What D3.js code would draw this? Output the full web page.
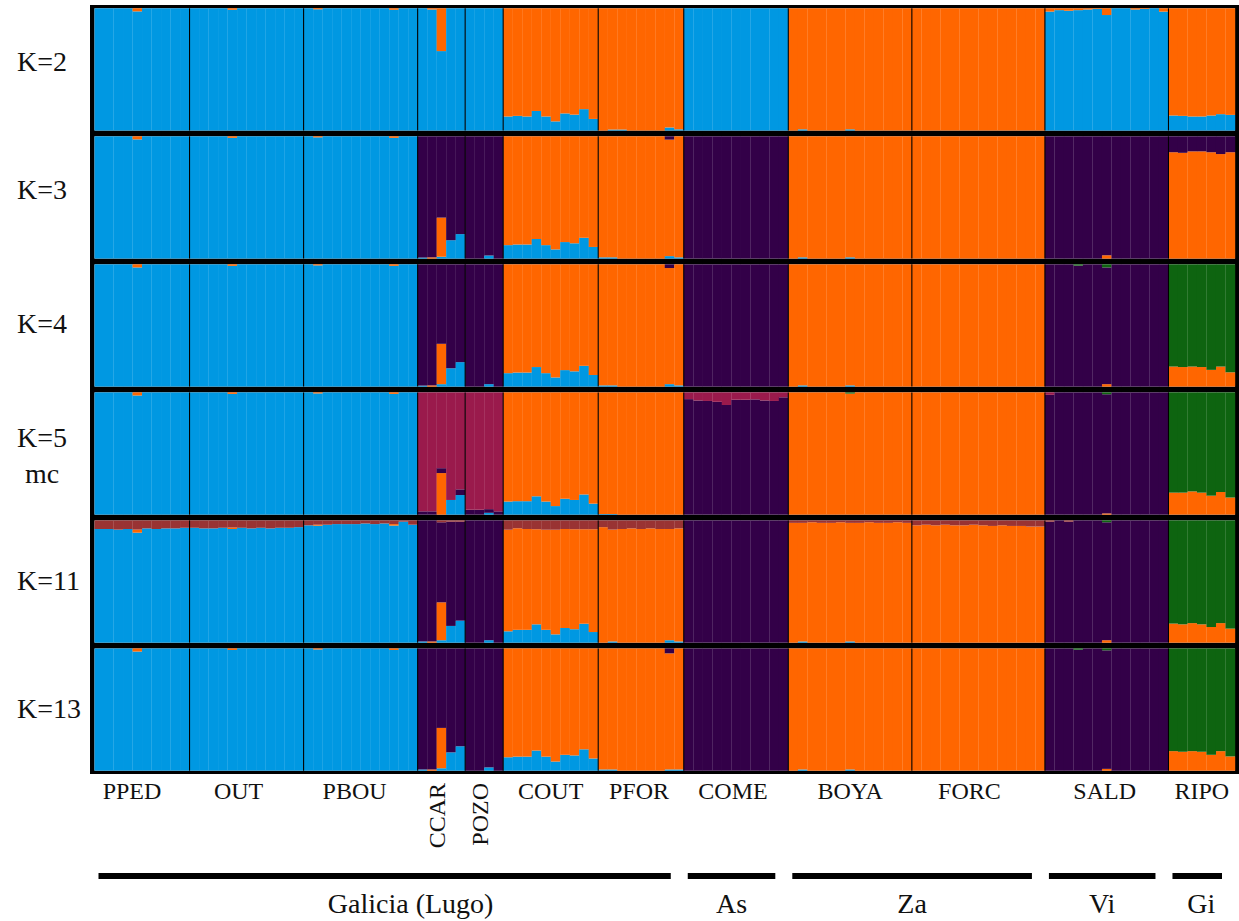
<!DOCTYPE html>
<html><head><meta charset="utf-8">
<script src="https://cdn.jsdelivr.net/npm/d3@7"></script>
<style>body{margin:0;background:#fff}svg{display:block}text{font-family:"Liberation Serif","Times New Roman",serif;fill:#111}</style>
</head><body><svg id="c" width="1239" height="921"></svg>
<script>
// ---------- DATA ----------
const populations = ["PPED","OUT","PBOU","CCAR","POZO","COUT","PFOR","COME","BOYA","FORC","SALD","RIPO"];
const popSizes    = [10,12,12,5,4,10,9,11,13,14,13,7];
const rotatedPops = ["CCAR","POZO"];
const regions      = ["Galicia (Lugo)","As","Za","Vi","Gi"];
const regionFirst  = ["PPED","COME","BOYA","SALD","RIPO"];
const regionLast   = ["PFOR","COME","FORC","SALD","RIPO"];
const panelLabels  = [["K=2"],["K=3"],["K=4"],["K=5","mc"],["K=11"],["K=13"]];
// cluster order (bottom -> top): blue, orange, purple, green, crimson, brown
const clusterColors = ["#0098E2","#FF6600","#330048","#0E6410","#9A1A4C","#993333"];

// K=2 : [blue, orange]
const qK2 = [
 [1,0],[1,0],[1,0],[1,0],[.975,.025],[1,0],[1,0],[1,0],[1,0],[1,0],
 [1,0],[1,0],[1,0],[1,0],[.988,.012],[1,0],[1,0],[1,0],[1,0],[1,0],[1,0],[1,0],
 [1,0],[.992,.008],[1,0],[1,0],[1,0],[1,0],[1,0],[1,0],[1,0],[.988,.012],[1,0],[1,0],
 [1,0],[.99,.01],[.65,.35],[1,0],[1,0],
 [1,0],[1,0],[1,0],[1,0],
 [.115,.885],[.12,.88],[.115,.885],[.16,.84],[.115,.885],[.075,.925],[.14,.86],[.13,.87],[.175,.825],[.095,.905],
 [0,1],[.008,.992],[.008,.992],[0,1],[0,1],[0,1],[0,1],[.025,.975],[.01,.99],
 [1,0],[1,0],[1,0],[1,0],[1,0],[1,0],[1,0],[1,0],[1,0],[1,0],[1,0],
 [0,1],[.01,.99],[0,1],[0,1],[0,1],[0,1],[.01,.99],[0,1],[0,1],[0,1],[0,1],[0,1],[0,1],
 [0,1],[0,1],[0,1],[0,1],[0,1],[0,1],[0,1],[0,1],[0,1],[0,1],[0,1],[0,1],[0,1],[0,1],
 [.973,.027],[.985,.015],[.98,.02],[.985,.015],[.99,.01],[.995,.005],[.945,.055],[1,0],[1,0],[.99,.01],[.995,.005],[1,0],[.973,.027],
 [.123,.877],[.12,.88],[.115,.885],[.115,.885],[.123,.877],[.134,.866],[.128,.872]
];
// K=3 : [blue, orange, purple]
const qK3 = [
 [1,0,0],[1,0,0],[1,0,0],[1,0,0],[.975,.025,0],[1,0,0],[1,0,0],[1,0,0],[1,0,0],[1,0,0],
 [1,0,0],[1,0,0],[1,0,0],[1,0,0],[.988,.012,0],[1,0,0],[1,0,0],[1,0,0],[1,0,0],[1,0,0],[1,0,0],[1,0,0],
 [1,0,0],[.992,.008,0],[1,0,0],[1,0,0],[1,0,0],[1,0,0],[1,0,0],[1,0,0],[1,0,0],[.988,.012,0],[1,0,0],[1,0,0],
 [.008,0,.992],[0,.01,.99],[.015,.32,.665],[.15,0,.85],[.2,0,.8],
 [0,0,1],[0,0,1],[.025,0,.975],[0,0,1],
 [.11,.89,0],[.115,.885,0],[.115,.885,0],[.16,.84,0],[.11,.89,0],[.075,.925,0],[.135,.865,0],[.125,.875,0],[.17,.83,0],[.095,.905,0],
 [.01,.99,0],[.01,.99,0],[0,1,0],[0,1,0],[0,1,0],[0,1,0],[0,1,0],[.02,.953,.027],[.01,.99,0],
 [0,0,1],[0,0,1],[0,0,1],[0,0,1],[0,0,1],[0,0,1],[0,0,1],[0,0,1],[0,0,1],[0,0,1],[0,0,1],
 [0,1,0],[.01,.99,0],[0,1,0],[0,1,0],[0,1,0],[0,1,0],[.01,.99,0],[0,1,0],[0,1,0],[0,1,0],[0,1,0],[0,1,0],[0,1,0],
 [0,1,0],[0,1,0],[0,1,0],[0,1,0],[0,1,0],[0,1,0],[0,1,0],[0,1,0],[0,1,0],[0,1,0],[0,1,0],[0,1,0],[0,1,0],[0,1,0],
 [0,0,1],[0,0,1],[0,0,1],[0,0,1],[0,0,1],[0,0,1],[0,.027,.973],[0,0,1],[0,0,1],[0,0,1],[0,0,1],[0,0,1],[0,0,1],
 [0,.87,.13],[0,.865,.135],[0,.877,.123],[0,.877,.123],[0,.87,.13],[0,.855,.145],[0,.87,.13]
];
// K=4 : [blue, orange, purple, green]
const qK4 = [
 [1,0,0,0],[1,0,0,0],[1,0,0,0],[1,0,0,0],[.975,.025,0,0],[1,0,0,0],[1,0,0,0],[1,0,0,0],[1,0,0,0],[1,0,0,0],
 [1,0,0,0],[1,0,0,0],[1,0,0,0],[1,0,0,0],[.988,.012,0,0],[1,0,0,0],[1,0,0,0],[1,0,0,0],[1,0,0,0],[1,0,0,0],[1,0,0,0],[1,0,0,0],
 [1,0,0,0],[.992,.008,0,0],[1,0,0,0],[1,0,0,0],[1,0,0,0],[1,0,0,0],[1,0,0,0],[1,0,0,0],[1,0,0,0],[.988,.012,0,0],[1,0,0,0],[1,0,0,0],
 [.008,0,.992,0],[0,.01,.99,0],[.02,.33,.65,0],[.15,0,.85,0],[.2,0,.8,0],
 [0,0,1,0],[0,0,1,0],[.02,0,.98,0],[0,0,1,0],
 [.11,.89,0,0],[.115,.885,0,0],[.115,.885,0,0],[.16,.84,0,0],[.11,.89,0,0],[.075,.925,0,0],[.135,.865,0,0],[.125,.875,0,0],[.17,.83,0,0],[.095,.905,0,0],
 [.01,.99,0,0],[.01,.99,0,0],[0,1,0,0],[0,1,0,0],[0,1,0,0],[0,1,0,0],[0,1,0,0],[.02,.95,.03,0],[.01,.99,0,0],
 [0,0,1,0],[0,0,1,0],[0,0,1,0],[0,0,1,0],[0,0,1,0],[0,0,1,0],[0,0,1,0],[0,0,1,0],[0,0,1,0],[0,0,1,0],[0,0,1,0],
 [0,1,0,0],[.01,.99,0,0],[0,1,0,0],[0,1,0,0],[0,1,0,0],[0,1,0,0],[.01,.99,0,0],[0,1,0,0],[0,1,0,0],[0,1,0,0],[0,1,0,0],[0,1,0,0],[0,1,0,0],
 [0,1,0,0],[0,1,0,0],[0,1,0,0],[0,1,0,0],[0,1,0,0],[0,1,0,0],[0,1,0,0],[0,1,0,0],[0,1,0,0],[0,1,0,0],[0,1,0,0],[0,1,0,0],[0,1,0,0],[0,1,0,0],
 [0,0,1,0],[0,0,1,0],[0,0,1,0],[0,0,.99,.01],[0,0,1,0],[0,0,1,0],[0,.02,.955,.025],[0,0,1,0],[0,0,1,0],[0,0,1,0],[0,0,1,0],[0,0,1,0],[0,0,1,0],
 [0,.164,0,.836],[0,.16,0,.84],[0,.164,0,.836],[0,.16,0,.84],[0,.137,0,.863],[0,.164,0,.836],[0,.117,0,.883]
];
// K=5 (mc) : [blue, orange, purple, green, crimson]
const qK5 = [
 [1,0,0,0,0],[1,0,0,0,0],[1,0,0,0,0],[1,0,0,0,0],[.975,.025,0,0,0],[1,0,0,0,0],[1,0,0,0,0],[1,0,0,0,0],[1,0,0,0,0],[1,0,0,0,0],
 [1,0,0,0,0],[1,0,0,0,0],[1,0,0,0,0],[1,0,0,0,0],[.988,.012,0,0,0],[1,0,0,0,0],[1,0,0,0,0],[1,0,0,0,0],[1,0,0,0,0],[1,0,0,0,0],[1,0,0,0,0],[1,0,0,0,0],
 [1,0,0,0,0],[.992,.008,0,0,0],[1,0,0,0,0],[1,0,0,0,0],[1,0,0,0,0],[1,0,0,0,0],[1,0,0,0,0],[1,0,0,0,0],[1,0,0,0,0],[.988,.012,0,0,0],[1,0,0,0,0],[1,0,0,0,0],
 [0,0,.027,0,.973],[0,0,.027,0,.973],[0,.34,.04,0,.62],[.12,0,0,0,.88],[.16,0,.047,0,.793],
 [0,0,.04,0,.96],[0,0,.04,0,.96],[.015,0,.03,0,.955],[0,0,.027,0,.973],
 [.107,.893,0,0,0],[.11,.89,0,0,0],[.11,.89,0,0,0],[.15,.85,0,0,0],[.107,.893,0,0,0],[.07,.93,0,0,0],[.13,.87,0,0,0],[.12,.88,0,0,0],[.165,.835,0,0,0],[.09,.91,0,0,0],
 [.005,.995,0,0,0],[.005,.995,0,0,0],[0,1,0,0,0],[0,1,0,0,0],[0,1,0,0,0],[0,1,0,0,0],[0,1,0,0,0],[0,1,0,0,0],[0,1,0,0,0],
 [0,0,.945,0,.055],[0,0,.934,0,.066],[0,0,.93,0,.07],[0,0,.923,0,.077],[0,0,.897,0,.103],[0,0,.94,0,.06],[0,0,.94,0,.06],[0,0,.943,0,.057],[0,0,.934,0,.066],[0,0,.93,0,.07],[0,0,.96,0,.04],
 [0,1,0,0,0],[0,1,0,0,0],[0,1,0,0,0],[0,1,0,0,0],[0,1,0,0,0],[0,1,0,0,0],[0,.99,0,.01,0],[0,1,0,0,0],[0,1,0,0,0],[0,1,0,0,0],[0,1,0,0,0],[0,1,0,0,0],[0,1,0,0,0],
 [0,1,0,0,0],[0,1,0,0,0],[0,1,0,0,0],[0,1,0,0,0],[0,1,0,0,0],[0,1,0,0,0],[0,1,0,0,0],[0,1,0,0,0],[0,1,0,0,0],[0,1,0,0,0],[0,1,0,0,0],[0,1,0,0,0],[0,1,0,0,0],[0,1,0,0,0],
 [0,0,.98,0,.02],[0,0,1,0,0],[0,0,1,0,0],[0,0,1,0,0],[0,0,1,0,0],[0,0,1,0,0],[0,.01,.975,.015,0],[0,0,1,0,0],[0,0,1,0,0],[0,0,1,0,0],[0,0,1,0,0],[0,0,1,0,0],[0,0,1,0,0],
 [0,.18,0,.82,0],[0,.18,0,.82,0],[0,.19,0,.81,0],[0,.18,0,.82,0],[0,.155,0,.845,0],[0,.185,0,.815,0],[0,.14,0,.86,0]
];
// K=11 : [blue, orange, purple, green, crimson, brown]
const qK11 = [
 [.93,0,0,0,0,.07],[.93,0,0,0,0,.07],[.925,0,0,0,0,.075],[.93,0,0,0,0,.07],[.9,.025,0,0,0,.075],[.935,0,0,0,0,.065],[.93,0,0,0,0,.07],[.935,0,0,0,0,.065],[.935,0,0,0,0,.065],[.94,0,0,0,0,.06],
 [.94,0,0,0,0,.06],[.935,0,0,0,0,.065],[.935,0,0,0,0,.065],[.94,0,0,0,0,.06],[.93,.012,0,0,0,.058],[.94,0,0,0,0,.06],[.935,0,0,0,0,.065],[.94,0,0,0,0,.06],[.935,0,0,0,0,.065],[.94,0,0,0,0,.06],[.94,0,0,0,0,.06],[.945,0,0,0,0,.055],
 [.96,0,0,0,0,.04],[.957,.008,0,0,0,.035],[.965,0,0,0,0,.035],[.97,0,0,0,0,.03],[.97,0,0,0,0,.03],[.97,0,0,0,0,.03],[.975,0,0,0,0,.025],[.97,0,0,0,0,.03],[.975,0,0,0,0,.025],[.958,.012,0,0,0,.03],[.99,0,0,0,0,.01],[.965,0,0,0,0,.035],
 [.01,0,.99,0,0,0],[0,.01,.99,0,0,0],[.02,.31,.655,0,0,.015],[.137,0,.853,0,0,.01],[.18,0,.81,0,0,.01],
 [0,0,1,0,0,0],[0,0,1,0,0,0],[.02,0,.98,0,0,0],[0,0,1,0,0,0],
 [.093,.831,0,0,0,.076],[.105,.831,0,0,0,.064],[.105,.825,0,0,0,.07],[.15,.778,0,0,0,.072],[.105,.819,0,0,0,.076],[.068,.856,0,0,0,.076],[.12,.81,0,0,0,.07],[.11,.818,0,0,0,.072],[.155,.773,0,0,0,.072],[.087,.841,0,0,0,.072],
 [0,.945,0,0,0,.055],[.01,.915,0,0,0,.075],[0,.93,0,0,0,.07],[0,.935,0,0,0,.065],[0,.93,0,0,0,.07],[0,.935,0,0,0,.065],[0,.93,0,0,0,.07],[.02,.91,0,0,0,.07],[.01,.925,0,0,0,.065],
 [0,0,1,0,0,0],[0,0,1,0,0,0],[0,0,1,0,0,0],[0,0,1,0,0,0],[0,0,1,0,0,0],[0,0,1,0,0,0],[0,0,1,0,0,0],[0,0,1,0,0,0],[0,0,1,0,0,0],[0,0,1,0,0,0],[0,0,1,0,0,0],
 [0,.98,0,0,0,.02],[.01,.97,0,0,0,.02],[0,.985,0,0,0,.015],[0,.98,0,0,0,.02],[0,.98,0,0,0,.02],[0,.985,0,0,0,.015],[.01,.97,0,0,0,.02],[0,.98,0,0,0,.02],[0,.985,0,0,0,.015],[0,.98,0,0,0,.02],[0,.98,0,0,0,.02],[0,.985,0,0,0,.015],[0,.98,0,0,0,.02],
 [0,.96,0,0,0,.04],[0,.965,0,0,0,.035],[0,.96,0,0,0,.04],[0,.965,0,0,0,.035],[0,.96,0,0,0,.04],[0,.96,0,0,0,.04],[0,.965,0,0,0,.035],[0,.96,0,0,0,.04],[0,.955,0,0,0,.045],[0,.96,0,0,0,.04],[0,.955,0,0,0,.045],[0,.955,0,0,0,.045],[0,.95,0,0,0,.05],[0,.95,0,0,0,.05],
 [0,0,.99,0,0,.01],[0,0,1,0,0,0],[0,0,.99,0,0,.01],[0,0,1,0,0,0],[0,0,1,0,0,0],[0,0,1,0,0,0],[0,.02,.965,.015,0,0],[0,0,1,0,0,0],[0,0,1,0,0,0],[0,0,1,0,0,0],[0,0,1,0,0,0],[0,0,1,0,0,0],[0,0,1,0,0,0],
 [0,.156,0,.844,0,0],[0,.15,0,.85,0,0],[0,.16,0,.84,0,0],[0,.15,0,.85,0,0],[0,.128,0,.872,0,0],[0,.16,0,.84,0,0],[0,.115,0,.885,0,0]
];
// K=13 : [blue, orange, purple, green]
const qK13 = [
 [1,0,0,0],[1,0,0,0],[1,0,0,0],[1,0,0,0],[.975,.025,0,0],[1,0,0,0],[1,0,0,0],[1,0,0,0],[1,0,0,0],[1,0,0,0],
 [1,0,0,0],[1,0,0,0],[1,0,0,0],[1,0,0,0],[.988,.012,0,0],[1,0,0,0],[1,0,0,0],[1,0,0,0],[1,0,0,0],[1,0,0,0],[1,0,0,0],[1,0,0,0],
 [1,0,0,0],[.992,.008,0,0],[1,0,0,0],[1,0,0,0],[1,0,0,0],[1,0,0,0],[1,0,0,0],[1,0,0,0],[1,0,0,0],[.988,.012,0,0],[1,0,0,0],[1,0,0,0],
 [.01,0,.99,0],[0,.01,.99,0],[.02,.33,.65,0],[.15,0,.85,0],[.2,0,.8,0],
 [0,0,1,0],[0,0,1,0],[.027,0,.973,0],[0,0,1,0],
 [.11,.89,0,0],[.115,.885,0,0],[.115,.885,0,0],[.165,.835,0,0],[.115,.885,0,0],[.075,.925,0,0],[.13,.87,0,0],[.125,.875,0,0],[.175,.825,0,0],[.1,.9,0,0],
 [.01,.99,0,0],[.01,.99,0,0],[0,1,0,0],[0,1,0,0],[0,1,0,0],[0,1,0,0],[0,1,0,0],[.01,.95,.04,0],[.01,.99,0,0],
 [0,0,1,0],[0,0,1,0],[0,0,1,0],[0,0,1,0],[0,0,1,0],[0,0,1,0],[0,0,1,0],[0,0,1,0],[0,0,1,0],[0,0,1,0],[0,0,1,0],
 [0,1,0,0],[.01,.99,0,0],[0,1,0,0],[0,1,0,0],[0,1,0,0],[0,1,0,0],[.01,.99,0,0],[0,1,0,0],[0,1,0,0],[0,1,0,0],[0,1,0,0],[0,1,0,0],[0,1,0,0],
 [0,1,0,0],[0,1,0,0],[0,1,0,0],[0,1,0,0],[0,1,0,0],[0,1,0,0],[0,1,0,0],[0,1,0,0],[0,1,0,0],[0,1,0,0],[0,1,0,0],[0,1,0,0],[0,1,0,0],[0,1,0,0],
 [0,0,1,0],[0,0,1,0],[0,0,1,0],[0,0,.99,.01],[0,0,1,0],[0,0,1,0],[0,.015,.97,.015],[0,0,1,0],[0,0,1,0],[0,0,1,0],[0,0,1,0],[0,0,1,0],[0,0,1,0],
 [0,.16,0,.84],[0,.155,0,.845],[0,.16,0,.84],[0,.155,0,.845],[0,.13,0,.87],[0,.16,0,.84],[0,.117,0,.883]
];
const panelData = [qK2,qK3,qK4,qK5,qK11,qK13];

// ---------- DRAW ----------
const svg = d3.select("#c");
const nInd = d3.sum(popSizes);
const x = d3.scaleBand().domain(d3.range(nInd)).range([94.5,1235]);
const py = d3.scaleBand().domain(d3.range(panelData.length)).range([8.3,770.7]).paddingInner(0.0453);
const popStart = d3.cumsum([0,...popSizes]);
const popIdx = p => populations.indexOf(p);
const bw = x.bandwidth();

// frame + separators (black)
svg.append("rect").attr("x",90).attr("y",5).attr("width",1149).attr("height",769).attr("fill","#000");

const kLabelDy = [1.5,1.5,8,0,8,8];
panelData.forEach((rows,k)=>{
  const top = py(k), h = py.bandwidth();
  const y = d3.scaleLinear().domain([0,1]).range([top+h, top]);
  const g = svg.append("g");
  g.append("rect").attr("x",x.range()[0]).attr("y",top).attr("width",x.range()[1]-x.range()[0]).attr("height",h).attr("fill","#fff");
  rows.forEach((row,i)=>{
    const cum = d3.cumsum(row);
    row.forEach((v,c)=>{
      if(v<=0) return;
      const y0 = c? cum[c-1]:0;
      g.append("rect").attr("x",x(i)).attr("width",bw+0.2)
        .attr("y",y(cum[c])).attr("height",y(y0)-y(cum[c]))
        .attr("fill",clusterColors[c]);
    });
  });
  // population boundaries
  popStart.slice(1,-1).forEach(s=>{
    g.append("line").attr("x1",x(s)).attr("x2",x(s)).attr("y1",top).attr("y2",top+h)
      .attr("stroke","#000").attr("stroke-width",1.1);
  });
  // panel labels
  const lab = panelLabels[k];
  const cy = top+h/2;
  if(lab.length===1){
    svg.append("text").attr("x",17).attr("y",cy+kLabelDy[k]).attr("font-size",28).text(lab[0]);
  } else {
    svg.append("text").attr("x",17).attr("y",cy-7).attr("font-size",28).text(lab[0]);
    svg.append("text").attr("x",42).attr("y",cy+29).attr("text-anchor","middle").attr("font-size",28).text(lab[1]);
  }
});

// population labels
const popLabelDx = {PPED:-10,OUT:-8,PBOU:-6,PFOR:-2,COME:-3,FORC:-9,SALD:-2};
populations.forEach((p,i)=>{
  const cx = (x(popStart[i]) + x(popStart[i+1]-1)+bw)/2 + (popLabelDx[p]||0);
  if(rotatedPops.includes(p)){
    svg.append("text").attr("transform",`translate(${cx+4},783) rotate(-90)`)
      .attr("text-anchor","end").attr("font-size",24).text(p);
  } else {
    svg.append("text").attr("x",cx).attr("y",799).attr("text-anchor","middle")
      .attr("font-size",24).text(p);
  }
});

// regions
const labelShift = {"Galicia (Lugo)":26,"Gi":4};
regions.forEach((r,i)=>{
  const a = x(popStart[popIdx(regionFirst[i])]);
  const b = x(popStart[popIdx(regionLast[i])+1]-1)+bw;
  const x0 = a+4, x1 = b-13;
  svg.append("rect").attr("x",x0).attr("y",873).attr("width",x1-x0).attr("height",6).attr("fill","#000");
  svg.append("text").attr("x",(x0+x1)/2+(labelShift[r]||0)).attr("y",913).attr("text-anchor","middle")
    .attr("font-size",28).text(r);
});
</script></body></html>
